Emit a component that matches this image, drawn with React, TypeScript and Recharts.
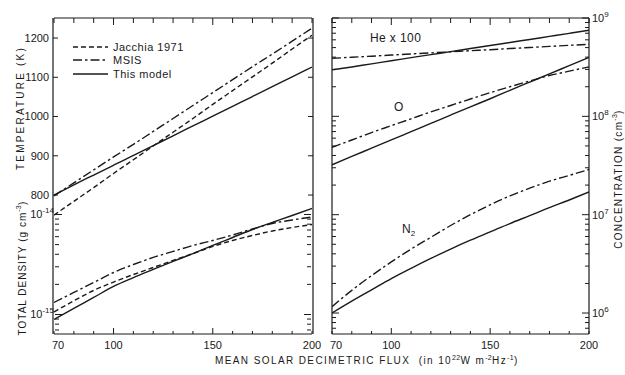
import React from 'react'
import { LineChart, Line, XAxis, YAxis } from 'recharts'

// mean solar decimetric flux (10^-22 W m^-2 Hz^-1)
const flux = [70, 80, 90, 100, 110, 120, 130, 140, 150, 160, 170, 180, 190, 200]

// left panel, upper curves: temperature (K)
const jacchiaTemp = [749, 784, 819, 855, 890, 925, 960, 995, 1031, 1066, 1101, 1136, 1172, 1207]
const msisTemp = [798, 831, 864, 897, 929, 962, 995, 1028, 1061, 1094, 1127, 1159, 1192, 1225]
const modelTemp = [800, 826, 851, 876, 901, 926, 951, 976, 1001, 1026, 1051, 1076, 1101, 1126]

// left panel, lower curves: total density (g cm^-3)
const jacchiaDens = [1.06e-15, 1.37e-15, 1.74e-15, 2.11e-15, 2.51e-15, 2.95e-15, 3.47e-15, 4.07e-15, 4.79e-15, 5.5e-15, 6.17e-15, 6.84e-15, 7.41e-15, 7.94e-15]
const msisDens = [1.32e-15, 1.66e-15, 2.09e-15, 2.63e-15, 3.16e-15, 3.72e-15, 4.27e-15, 4.9e-15, 5.5e-15, 6.24e-15, 7.16e-15, 8.13e-15, 8.81e-15, 9.44e-15]
const modelDens = [8.91e-16, 1.15e-15, 1.48e-15, 1.91e-15, 2.34e-15, 2.82e-15, 3.39e-15, 4.07e-15, 4.9e-15, 5.89e-15, 7.08e-15, 8.32e-15, 9.77e-15, 1.15e-14]

// right panel: concentrations (cm^-3), He multiplied by 100
const heModel = [2.97e8, 3.18e8, 3.42e8, 3.67e8, 3.95e8, 4.24e8, 4.55e8, 4.89e8, 5.25e8, 5.64e8, 6.05e8, 6.5e8, 6.98e8, 7.5e8]
const heMsis = [3.89e8, 3.99e8, 4.09e8, 4.2e8, 4.31e8, 4.42e8, 4.53e8, 4.65e8, 4.76e8, 4.89e8, 5.01e8, 5.14e8, 5.27e8, 5.41e8]
const oModel = [3.22e7, 3.91e7, 4.74e7, 5.75e7, 6.98e7, 8.47e7, 1.03e8, 1.25e8, 1.51e8, 1.84e8, 2.23e8, 2.7e8, 3.28e8, 3.98e8]
const oMsis = [4.84e7, 5.75e7, 6.84e7, 8.04e7, 9.44e7, 1.11e8, 1.29e8, 1.5e8, 1.74e8, 2.0e8, 2.29e8, 2.6e8, 2.88e8, 3.18e8]
const n2Model = [1.0e6, 1.32e6, 1.72e6, 2.24e6, 2.85e6, 3.59e6, 4.47e6, 5.5e6, 6.68e6, 8.13e6, 9.77e6, 1.18e7, 1.41e7, 1.7e7]
const n2Msis = [1.16e6, 1.7e6, 2.4e6, 3.31e6, 4.47e6, 5.89e6, 7.76e6, 1.0e7, 1.26e7, 1.55e7, 1.86e7, 2.19e7, 2.51e7, 2.88e7]

// ticks
const fluxTicks = [70, 80, 90, 100, 110, 120, 130, 140, 150, 160, 170, 180, 190, 200]
const fluxLabels = [70, 100, 150, 200]
const tempTicks = [800, 900, 1000, 1100, 1200]
const densTicks = [7e-16, 8e-16, 9e-16, 1e-15, 2e-15, 3e-15, 4e-15, 5e-15, 6e-15, 7e-15, 8e-15, 9e-15, 1e-14]
const concTicks = [
  7e5, 8e5, 9e5,
  1e6, 2e6, 3e6, 4e6, 5e6, 6e6, 7e6, 8e6, 9e6,
  1e7, 2e7, 3e7, 4e7, 5e7, 6e7, 7e7, 8e7, 9e7,
  1e8, 2e8, 3e8, 4e8, 5e8, 6e8, 7e8, 8e8, 9e8,
  1e9,
]

const legendItems = [
  { label: 'Jacchia 1971', dash: '5 3' },
  { label: 'MSIS', dash: '9 3 2.5 3' },
  { label: 'This model', dash: undefined },
]

const TEMP_DOMAIN = [446, 1251]
const DENS_DOMAIN = [6.38e-16, 9.23e-13]
const CONC_DOMAIN = [6.12e5, 1e9]

const INK = '#1a1a1a'
const FONT = "'Liberation Sans', Arial, sans-serif"
const DASHED = '5 3'
const DASHDOT = '9 3 2.5 3'

const leftData = flux.map((f, i) => ({
  flux: f,
  jacchiaTemp: jacchiaTemp[i],
  msisTemp: msisTemp[i],
  modelTemp: modelTemp[i],
  jacchiaDens: jacchiaDens[i],
  msisDens: msisDens[i],
  modelDens: modelDens[i],
}))

const rightData = flux.map((f, i) => ({
  flux: f,
  heModel: heModel[i],
  heMsis: heMsis[i],
  oModel: oModel[i],
  oMsis: oMsis[i],
  n2Model: n2Model[i],
  n2Msis: n2Msis[i],
}))

const isDecade = (v: number) => {
  const l = Math.log10(v)
  return Math.abs(l - Math.round(l)) < 1e-6
}

function Pow({ x, y, v, anchor }: { x: number; y: number; v: number; anchor: 'start' | 'end' }) {
  const exp = Math.round(Math.log10(v))
  return (
    <text x={x} y={y} dy="0.35em" textAnchor={anchor} fill={INK} fontSize={11} fontFamily={FONT}>
      10
      <tspan dy={-5} fontSize={8}>
        {exp}
      </tspan>
    </text>
  )
}

function xTick(side: 'top' | 'bottom') {
  return (p: any) => {
    const { x, y, payload } = p
    const v = payload.value
    const major = v === 100 || v === 150
    const dir = side === 'top' ? 1 : -1
    const len = side === 'top' ? (major ? 7 : 5) : major ? 6 : 3
    return (
      <g>
        <line x1={x} x2={x} y1={y} y2={y + dir * len} stroke={INK} strokeWidth={1} />
        {side === 'bottom' && fluxLabels.includes(v) && (
          <text
            x={x + (v === 70 ? 4 : 0)}
            y={y + 15}
            textAnchor="middle"
            fill={INK}
            fontSize={11}
            fontFamily={FONT}
          >
            {v}
          </text>
        )}
      </g>
    )
  }
}

// shift lets a stacked (second) axis draw its ticks on the frame line
function yTick(side: 'left' | 'right', kind: 'temp' | 'log', labelled: boolean, shift = 0) {
  return (p: any) => {
    const x = p.x + shift
    const { y, payload } = p
    const v = payload.value
    const dir = side === 'left' ? 1 : -1
    const major = kind === 'temp' || isDecade(v)
    const len = kind === 'temp' ? 5 : major ? 7 : 4
    let label = null
    if (labelled && major) {
      if (kind === 'temp') {
        label = (
          <text x={x - 4} y={y} dy="0.35em" textAnchor="end" fill={INK} fontSize={11} fontFamily={FONT}>
            {v}
          </text>
        )
      } else if (side === 'left') {
        label = <Pow x={x - 1} y={y} v={v} anchor="end" />
      } else {
        label = <Pow x={x + 3} y={y} v={v} anchor="start" />
      }
    }
    return (
      <g>
        <line x1={x} x2={x + dir * len} y1={y} y2={y} stroke={INK} strokeWidth={1} />
        {label}
      </g>
    )
  }
}

const frame = { stroke: INK, strokeWidth: 1.2 }

const axisBase = {
  type: 'number' as const,
  allowDataOverflow: true,
  interval: 0 as const,
  tickSize: 0,
  tickMargin: 0,
  tickLine: false,
}

function xAxes() {
  return [
    <XAxis
      key="b"
      {...axisBase}
      xAxisId="b"
      dataKey="flux"
      domain={[70, 200]}
      ticks={fluxTicks}
      height={1}
      axisLine={frame}
      tick={xTick('bottom')}
    />,
    <XAxis
      key="t"
      {...axisBase}
      xAxisId="t"
      orientation="top"
      dataKey="flux"
      domain={[70, 200]}
      ticks={fluxTicks}
      height={1}
      axisLine={frame}
      tick={xTick('top')}
    />,
  ]
}

const lineBase = {
  xAxisId: 'b',
  stroke: INK,
  strokeWidth: 1.4,
  dot: false,
  activeDot: false,
  type: 'monotone' as const,
  isAnimationActive: false,
}

function LeftPanel() {
  return (
    <LineChart width={330} height={375} data={leftData} margin={{ top: 17, right: 16, bottom: 40, left: 52 }}>
      {xAxes()}
      <YAxis
        {...axisBase}
        yAxisId="temp"
        domain={TEMP_DOMAIN}
        ticks={tempTicks}
        width={1}
        axisLine={frame}
        tick={yTick('left', 'temp', true)}
      />
      <YAxis
        {...axisBase}
        yAxisId="dens"
        scale="log"
        domain={DENS_DOMAIN}
        ticks={densTicks}
        width={1}
        axisLine={false}
        tick={yTick('left', 'log', true, 1)}
      />
      <YAxis
        {...axisBase}
        yAxisId="tempR"
        orientation="right"
        domain={TEMP_DOMAIN}
        ticks={tempTicks}
        width={1}
        axisLine={frame}
        tick={yTick('right', 'temp', false)}
      />
      <YAxis
        {...axisBase}
        yAxisId="densR"
        orientation="right"
        scale="log"
        domain={DENS_DOMAIN}
        ticks={densTicks}
        width={1}
        axisLine={false}
        tick={yTick('right', 'log', false, -1)}
      />
      <Line {...lineBase} yAxisId="temp" dataKey="jacchiaTemp" strokeDasharray={DASHED} />
      <Line {...lineBase} yAxisId="temp" dataKey="msisTemp" strokeDasharray={DASHDOT} />
      <Line {...lineBase} yAxisId="temp" dataKey="modelTemp" />
      <Line {...lineBase} yAxisId="dens" dataKey="jacchiaDens" strokeDasharray={DASHED} />
      <Line {...lineBase} yAxisId="dens" dataKey="msisDens" strokeDasharray={DASHDOT} />
      <Line {...lineBase} yAxisId="dens" dataKey="modelDens" />
    </LineChart>
  )
}

function RightPanel() {
  return (
    <LineChart width={325} height={375} data={rightData} margin={{ top: 17, right: 35, bottom: 40, left: 31 }}>
      {xAxes()}
      <YAxis
        {...axisBase}
        yAxisId="conc"
        scale="log"
        domain={CONC_DOMAIN}
        ticks={concTicks}
        width={1}
        axisLine={frame}
        tick={yTick('left', 'log', false)}
      />
      <YAxis
        {...axisBase}
        yAxisId="concR"
        orientation="right"
        scale="log"
        domain={CONC_DOMAIN}
        ticks={concTicks}
        width={1}
        axisLine={frame}
        tick={yTick('right', 'log', true)}
      />
      <Line {...lineBase} yAxisId="conc" dataKey="heMsis" strokeDasharray={DASHDOT} />
      <Line {...lineBase} yAxisId="conc" dataKey="heModel" />
      <Line {...lineBase} yAxisId="conc" dataKey="oMsis" strokeDasharray={DASHDOT} />
      <Line {...lineBase} yAxisId="conc" dataKey="oModel" />
      <Line {...lineBase} yAxisId="conc" dataKey="n2Msis" strokeDasharray={DASHDOT} />
      <Line {...lineBase} yAxisId="conc" dataKey="n2Model" />
    </LineChart>
  )
}

const abs = (left: number, top: number): React.CSSProperties => ({ position: 'absolute', left, top })

const vertical = (cx: number, cy: number, spacing: number): React.CSSProperties => ({
  position: 'absolute',
  left: cx,
  top: cy,
  transform: 'translate(-50%, -50%) rotate(-90deg)',
  whiteSpace: 'nowrap',
  fontSize: 10,
  letterSpacing: spacing,
  lineHeight: '12px',
})

const sup: React.CSSProperties = { fontSize: 7, verticalAlign: 'super', letterSpacing: 0.3 }

export default function App() {
  return (
    <div
      style={{
        position: 'absolute',
        left: 0,
        top: 0,
        width: 625,
        height: 375,
        background: '#fff',
        color: INK,
        fontFamily: FONT,
        overflow: 'hidden',
      }}
    >
      <div style={abs(0, 0)}>
        <LeftPanel />
      </div>
      <div style={abs(300, 0)}>
        <RightPanel />
      </div>

      {/* legend */}
      <div style={{ ...abs(73, 40), fontSize: 11, letterSpacing: 0.5 }}>
        {legendItems.map((it) => (
          <div key={it.label} style={{ display: 'flex', alignItems: 'center', height: 13.5 }}>
            <svg width={35} height={6} style={{ marginRight: 5 }}>
              <line x1={0} x2={35} y1={3} y2={3} stroke={INK} strokeWidth={1.3} strokeDasharray={it.dash} />
            </svg>
            <span>{it.label}</span>
          </div>
        ))}
      </div>

      {/* curve labels */}
      <div style={{ ...abs(370, 31), fontSize: 12, letterSpacing: 0.4 }}>He x 100</div>
      <div style={{ ...abs(394, 100), fontSize: 12 }}>O</div>
      <div style={{ ...abs(402, 222), fontSize: 12 }}>
        N<sub style={{ fontSize: 8 }}>2</sub>
      </div>

      {/* axis titles */}
      <div style={vertical(21, 108, 2.2)}>TEMPERATURE (K)</div>
      <div style={vertical(21, 268, 1.0)}>
        TOTAL DENSITY (g cm<span style={sup}>-3</span>)
      </div>
      <div style={vertical(617, 179, 1.3)}>
        CONCENTRATION (cm<span style={sup}>-3</span>)
      </div>
      <div style={{ ...abs(215, 352), fontSize: 10, letterSpacing: 1.4, whiteSpace: 'nowrap', lineHeight: '12px' }}>
        MEAN SOLAR DECIMETRIC FLUX&nbsp;&nbsp;(in 10<span style={sup}>22</span>W m<span style={sup}>-2</span>Hz
        <span style={sup}>-1</span>)
      </div>
    </div>
  )
}
